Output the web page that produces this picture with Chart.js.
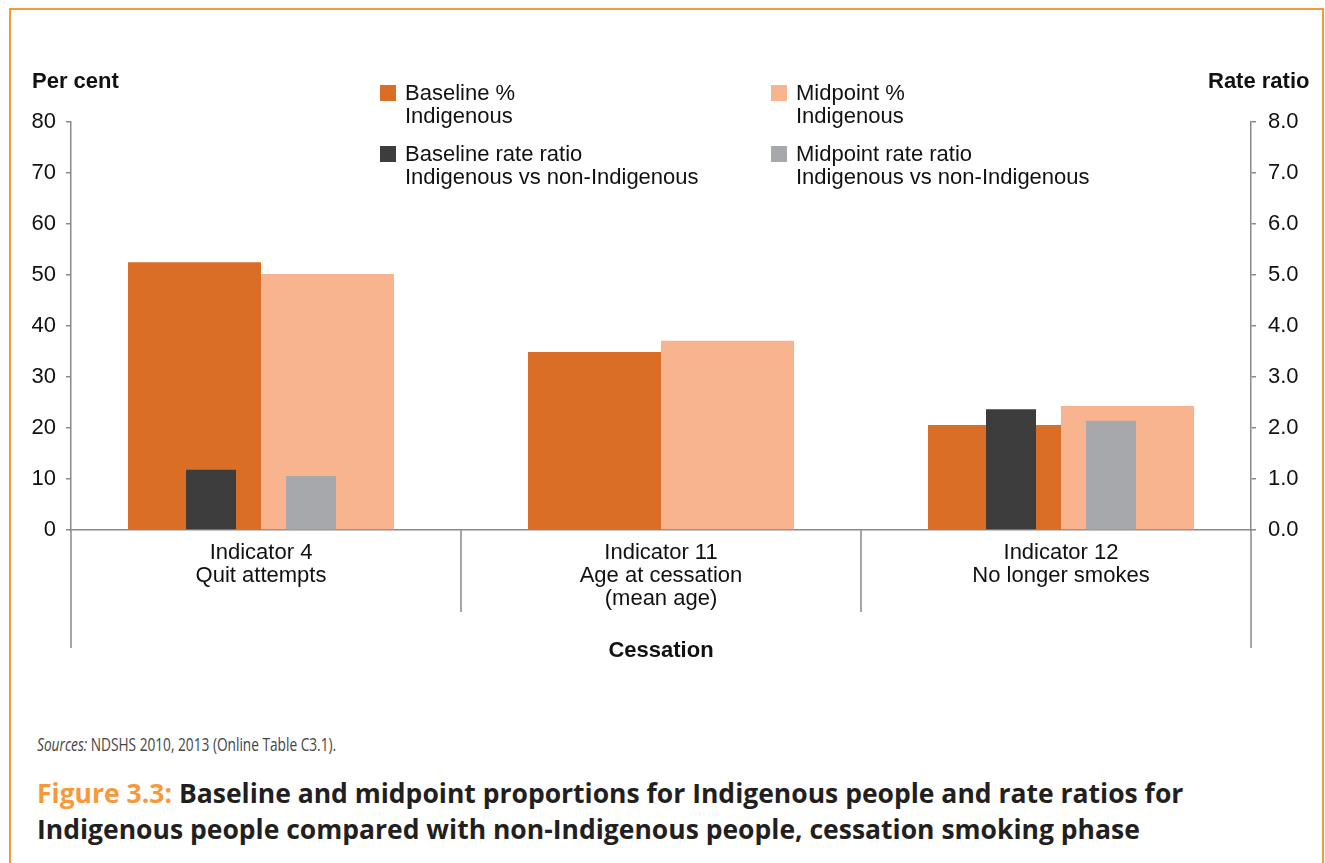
<!DOCTYPE html>
<html lang="en">
<head>
  <meta charset="UTF-8">
  <title>Figure 3.3 Cessation</title>
  <script src="https://cdn.jsdelivr.net/npm/chart.js"></script>
  <style>
    body { margin: 0; background: #fff; font-family: "Liberation Sans", Arial, sans-serif; }
    #wrap { position: relative; width: 1325px; height: 863px; overflow: hidden; }
    #frame { position: absolute; left: 9px; top: 8px; width: 1311px; height: 900px; border: 2.5px solid #f7993b; }
    #chartCanvas { position: absolute; left: 0; top: 0; }
    .axisTitle { position: absolute; font-weight: bold; font-size: 22px; color: #111; }
    .legItem { position: absolute; font-size: 22px; line-height: 23px; color: #111; padding-left: 25px; }
    .legItem span.sw { position: absolute; left: 0; top: 4px; width: 16px; height: 16px; }
    #sources { position: absolute; left: 37px; top: 732px; font-family: "Open Sans", sans-serif; font-size: 18px; color: #444; white-space: nowrap; transform: scaleX(0.76); transform-origin: left center; }
    #caption { position: absolute; left: 37px; top: 775px; font-family: "Open Sans", sans-serif; font-weight: bold; font-size: 26.5px; line-height: 36px; color: #231f20; }
    #caption .fig { color: #f7993b; }
  </style>
</head>
<body>
  <div id="wrap">
    <div id="frame"></div>
    <canvas id="chartCanvas" width="1325" height="700"></canvas>
    <div class="axisTitle" style="left:32px; top:68px;">Per cent</div>
    <div class="axisTitle" style="left:1208px; top:68px;">Rate ratio</div>
    <div id="legend"></div>
    <div id="sources"><i>Sources:</i> NDSHS 2010, 2013 (Online Table C3.1).</div>
    <div id="caption"><span class="fig">Figure 3.3:</span> Baseline and midpoint proportions for Indigenous people and rate ratios for<br>Indigenous people compared with non-Indigenous people, cessation smoking phase</div>
  </div>

  <script>
    // Categories (multi-line tick labels)
    const categories = [
      ['Indicator 4', 'Quit attempts'],
      ['Indicator 11', 'Age at cessation', '(mean age)'],
      ['Indicator 12', 'No longer smokes']
    ];

    // Per cent values (left axis)
    const baselinePct = [52.5, 34.9, 20.6];
    const midpointPct = [50.2, 37.1, 24.3];

    // Rate ratios (right axis)
    const baselineRR = [1.18, null, 2.37];
    const midpointRR = [1.06, null, 2.14];

    const legendLabels = [
      ['Baseline %', 'Indigenous'],
      ['Midpoint %', 'Indigenous'],
      ['Baseline rate ratio', 'Indigenous vs non-Indigenous'],
      ['Midpoint rate ratio', 'Indigenous vs non-Indigenous']
    ];
    const colours = ['#da6e26', '#f8b48f', '#3d3d3d', '#a7a8ab'];

    const axisGrey = '#8a8a8a';
    const fontFamily = '"Liberation Sans", Arial, sans-serif';

    // HTML legend, 2 x 2
    const legendPos = [[380, 81], [771, 81], [380, 142], [771, 142]];
    const legendEl = document.getElementById('legend');
    legendLabels.forEach((lines, i) => {
      const d = document.createElement('div');
      d.className = 'legItem';
      d.style.left = legendPos[i][0] + 'px';
      d.style.top = legendPos[i][1] + 'px';
      d.innerHTML = '<span class="sw" style="background:' + colours[i] + '"></span>' + lines.join('<br>');
      legendEl.appendChild(d);
    });

    // x runs a little past the outer category edges (axis lines sit inside them)
    const xMin = -0.475, xMax = categories.length - 1 + 0.475;
    const pctWidth = 0.3325;   // one per cent bar, fraction of a category
    const rrWidth = 0.125;     // one rate ratio bar
    const rrGap = 0.125;       // rate ratio bar centre offset from category centre

    const toPoints = arr => arr.map((v, i) => ({ x: i, y: v }));
    const fixTicks = scale => { scale.ticks = categories.map((c, i) => ({ value: i })); };
    // hidden index axis, shifted so value i lands at category centre + dx
    const shiftedAxis = dx => ({
      type: 'linear', display: false, offset: false,
      min: xMin - dx, max: xMax - dx, afterBuildTicks: fixTicks
    });

    // extra lines under the x axis: category dividers and the long outer edges
    const dividerPlugin = {
      id: 'dividers',
      afterDraw(chart) {
        const { ctx, chartArea } = chart;
        const x = chart.scales.x;
        ctx.save();
        ctx.strokeStyle = axisGrey;
        ctx.lineWidth = 1.5;
        ctx.beginPath();
        for (let i = 0; i < categories.length - 1; i++) {
          const px = Math.round(x.getPixelForValue(i + 0.5));
          ctx.moveTo(px, chartArea.bottom);
          ctx.lineTo(px, chartArea.bottom + 82);
        }
        ctx.moveTo(chartArea.left, chartArea.bottom);
        ctx.lineTo(chartArea.left, chartArea.bottom + 118);
        ctx.moveTo(chartArea.right, chartArea.bottom);
        ctx.lineTo(chartArea.right, chartArea.bottom + 118);
        ctx.stroke();
        ctx.restore();
      }
    };

    const ctx = document.getElementById('chartCanvas').getContext('2d');
    new Chart(ctx, {
      type: 'bar',
      data: {
        // first dataset is drawn on top, so the rate ratios come first
        datasets: [
          { label: legendLabels[2].join(' '), data: toPoints(baselineRR), backgroundColor: colours[2], xAxisID: 'xrb', yAxisID: 'y2', grouped: false, categoryPercentage: rrWidth, barPercentage: 1 },
          { label: legendLabels[3].join(' '), data: toPoints(midpointRR), backgroundColor: colours[3], xAxisID: 'xrm', yAxisID: 'y2', grouped: false, categoryPercentage: rrWidth, barPercentage: 1 },
          { label: legendLabels[0].join(' '), data: toPoints(baselinePct), backgroundColor: colours[0], xAxisID: 'xpb', yAxisID: 'y', grouped: false, categoryPercentage: pctWidth, barPercentage: 1 },
          { label: legendLabels[1].join(' '), data: toPoints(midpointPct), backgroundColor: colours[1], xAxisID: 'xpm', yAxisID: 'y', grouped: false, categoryPercentage: pctWidth, barPercentage: 1 }
        ]
      },
      options: {
        responsive: false,
        animation: false,
        devicePixelRatio: 1,
        layout: { padding: { top: 122, left: 0, right: 0, bottom: 0 } },
        plugins: {
          legend: { display: false },
          tooltip: { enabled: false }
        },
        scales: {
          x: {
            type: 'linear',
            position: 'bottom',
            offset: false,
            min: xMin,
            max: xMax,
            afterBuildTicks: fixTicks,
            afterFit: s => { s.height = 170; },
            grid: { display: false, drawTicks: false, offset: false },
            border: { display: true, color: axisGrey, width: 1.5 },
            ticks: {
              autoSkip: false,
              maxRotation: 0,
              padding: 12,
              color: '#111',
              font: { family: fontFamily, size: 22, lineHeight: 1.03 },
              callback: v => categories[v]
            },
            title: {
              display: true,
              text: 'Cessation',
              color: '#111',
              font: { family: fontFamily, size: 22, weight: 'bold', lineHeight: 1.2 },
              padding: { top: 0, bottom: 36 }
            }
          },
          xpb: shiftedAxis(-pctWidth / 2),
          xpm: shiftedAxis(pctWidth / 2),
          xrb: shiftedAxis(-rrGap),
          xrm: shiftedAxis(rrGap),
          y: {
            position: 'left',
            min: 0,
            max: 80,
            afterFit: s => { s.width = 71; },
            grid: { drawOnChartArea: false, drawTicks: true, tickLength: 5, color: axisGrey, lineWidth: 1.5 },
            border: { display: true, color: axisGrey, width: 1.5 },
            ticks: {
              stepSize: 10,
              padding: 10,
              color: '#111',
              font: { family: fontFamily, size: 22 }
            }
          },
          y2: {
            position: 'right',
            min: 0,
            max: 8,
            afterFit: s => { s.width = 74; },
            grid: { drawOnChartArea: false, drawTicks: true, tickLength: 5, color: axisGrey, lineWidth: 1.5 },
            border: { display: true, color: axisGrey, width: 1.5 },
            ticks: {
              stepSize: 1,
              padding: 12,
              color: '#111',
              font: { family: fontFamily, size: 22 },
              callback: v => v.toFixed(1)
            }
          }
        }
      },
      plugins: [dividerPlugin]
    });
  </script>
</body>
</html>
